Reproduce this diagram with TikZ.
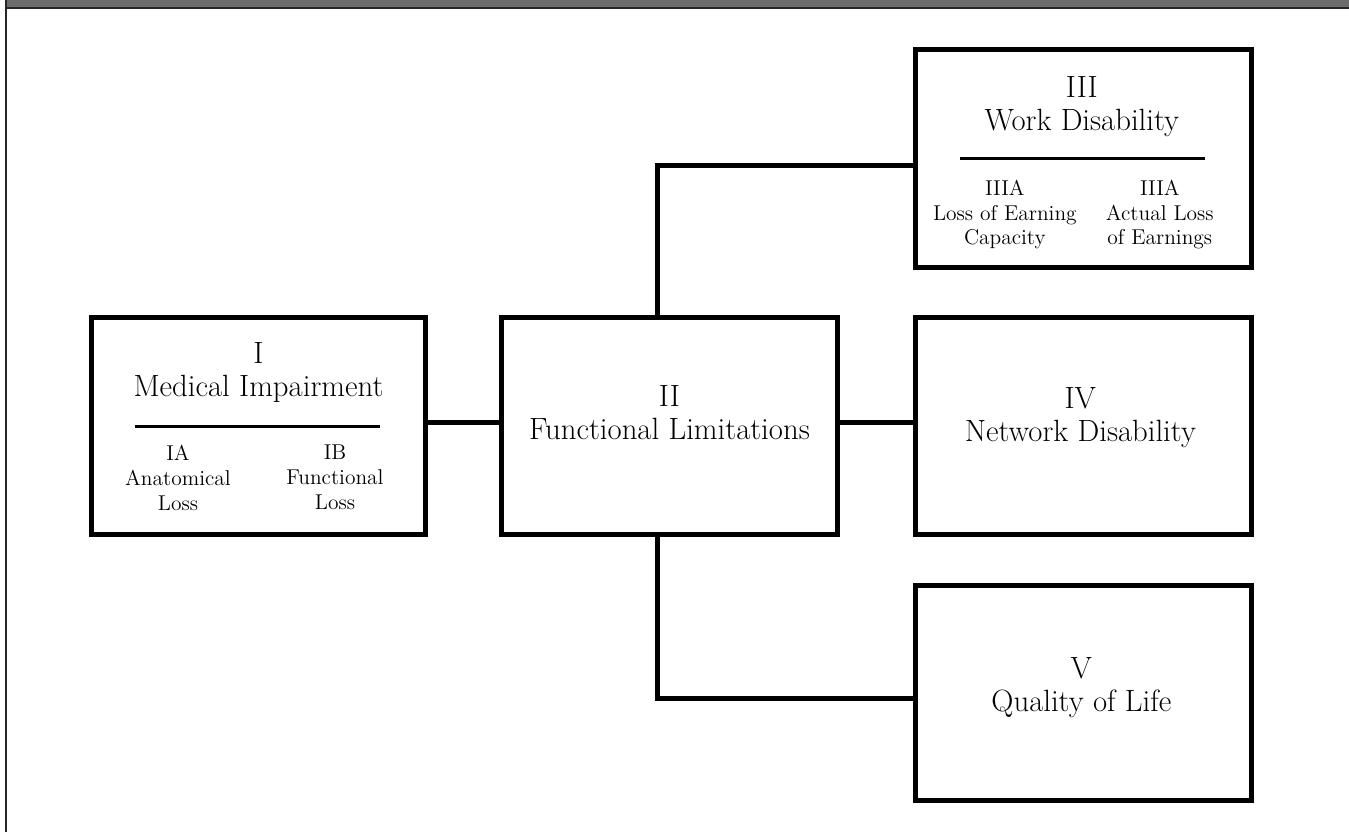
\documentclass[tikz,border=0pt]{standalone}
\usepackage{tikz}
\usetikzlibrary{calc, positioning}
\definecolor{bargray}{RGB}{109,109,112}
\tikzset{
box/.style={draw, line width=1mm, minimum width=6.72cm, minimum height=4.34cm, inner sep=0pt}, % the five blocks
link/.style={line width=1mm}, % connecting lines
rule/.style={line width=0.6mm}, % divider under a title
head/.style={align=center, inner sep=0pt, font=\fontsize{17.5}{18.8}\selectfont},
sub/.style={align=center, inner sep=0pt, font=\fontsize{12.2}{14.2}\selectfont},
}

\begin{document}
\begin{tikzpicture}[x=0.02cm, y=-0.02cm]
  \useasboundingbox (0,0) rectangle (1349,832);
  % frame at the top and left
  \fill[bargray] (6,0) rectangle (1349,7);
  \draw[black!85, line width=0.4mm] (6,7.5) -- (1349,7.5);
  \draw[black!85, line width=0.5mm] (6,0) -- (6,832);

  \node[box, minimum width=6.68cm] (mi) at (258.5,426) {};
  \node[box, right=1.42cm of mi] (fl) {};
  \node[box, right=1.46cm of fl] (nd) {};
  \node[box, minimum height=4.36cm, above=0.9cm of nd] (wd) {};
  \node[box, minimum height=4.3cm, below=0.92cm of nd] (ql) {};

  % texts inside the blocks
  \node[head] (mi-t) at ($(mi)+(0,-53.5)$) {I\\Medical Impairment};
  \draw[rule] ($(mi)+(-123.5,0)$) -- ($(mi)+(121.5,0)$);
  \node[sub] (ia) at ($(mi)+(-80.5,51.5)$) {IA\\Anatomical\\Loss};
  \node[sub] (ib) at ($(mi)+(76.5,51.5)$) {IB\\Functional\\Loss};

  \node[head] (fl-t) at ($(fl)+(0,-13)$) {II\\Functional Limitations};

  \node[head] (wd-t) at ($(wd)+(-1.5,-52)$) {III\\Work Disability};
  \draw[rule] ($(wd)+(-123.5,0)$) -- ($(wd)+(121.5,0)$);
  \node[sub] (iiia) at ($(wd)+(-78.5,56)$) {IIIA\\Loss of Earning\\Capacity};
  \node[sub] (iiib) at ($(wd)+(76.5,56)$) {IIIA\\Actual Loss\\of Earnings};

  \node[head] (nd-t) at ($(nd)+(-3,-8)$) {IV\\Network Disability};
  \node[head] (ql-t) at ($(ql)+(-2,-5.5)$) {V\\Quality of Life};

  \draw[link] ([yshift=0.08cm]mi.east) -- ([yshift=0.08cm]fl.west);
  \draw[link] ([yshift=0.08cm]fl.east) -- ([yshift=0.08cm]nd.west);
  \draw[link] ([xshift=-0.23cm]fl.north) |- ([yshift=-0.13cm]wd.west);
  \draw[link] ([xshift=-0.23cm]fl.south) |- ([yshift=-0.11cm]ql.west);
\end{tikzpicture}
\end{document}
